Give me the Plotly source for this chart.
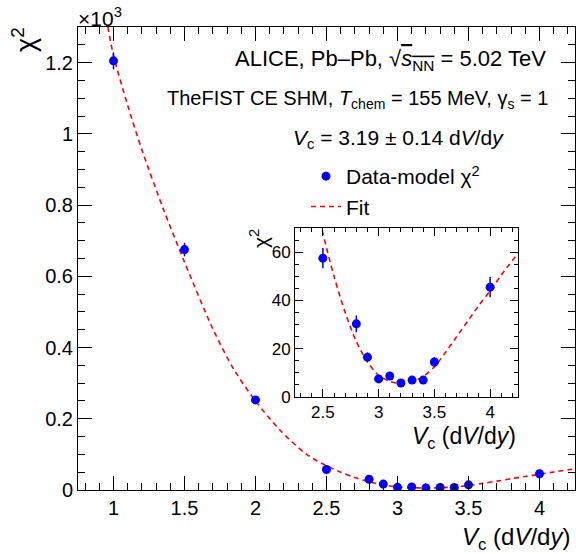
import plotly.graph_objects as go

# ---- data ----
vc = [1.0, 1.5, 2.0, 2.5, 2.8, 2.9, 3.0, 3.1, 3.2, 3.3, 3.4, 3.5, 4.0]
chi2 = [1205, 675, 253, 57.5, 30.3, 16.5, 7.5, 8.7, 5.8, 7.0, 7.0, 14.5, 45.5]
chi2_err = [24, 19, 8, 4.2, 3.5, 2.0, 1.2, 1.2, 1.0, 1.0, 1.0, 2.0, 4.2]

fit_x = [0.96, 1.0, 1.1, 1.2, 1.35, 1.5, 1.7, 1.85, 2.0, 2.17, 2.36, 2.5, 2.6, 2.7,
         2.8, 2.9, 3.0, 3.1, 3.2, 3.3, 3.4, 3.5, 3.6, 3.7, 3.8, 3.9, 4.0, 4.1, 4.25]
fit_y = [1300, 1220, 1080, 955, 790, 640, 452, 337, 250, 169, 100, 68, 50, 35,
         23, 14.5, 9, 6.5, 5.6, 6.3, 8.5, 12.5, 18.5, 25, 31.5, 38, 44, 50.5, 59.5]

main_x_ticks = [1, 1.5, 2, 2.5, 3, 3.5, 4]
main_y_ticks = [0, 0.2, 0.4, 0.6, 0.8, 1.0, 1.2]
main_y_labels = ["0", "0.2", "0.4", "0.6", "0.8", "1", "1.2"]
inset_x_ticks = [2.5, 3, 3.5, 4]
inset_y_ticks = [0, 20, 40, 60]

SCALE = 1000.0
FONT = "Liberation Sans, Arial, sans-serif"
BLUE = "#0000ff"
RED = "#ff0000"

W, H = 576, 554
L, R, T, B = 78, 1, 27, 64
PW, PH = W - L - R, H - T - B


def px(xp):
    return (xp - L) / PW


def py(yp):
    return (H - B - yp) / PH


fig = go.Figure()

# main plot
fig.add_trace(go.Scatter(
    x=fit_x, y=[v / SCALE for v in fit_y], mode="lines", name="Fit",
    line=dict(color=RED, width=1.6, dash="5px,4px", shape="spline", smoothing=0.8),
    xaxis="x", yaxis="y", showlegend=True, legendrank=2))
fig.add_trace(go.Scatter(
    x=vc, y=[v / SCALE for v in chi2], mode="markers", name="Data-model χ<sup>2</sup>",
    marker=dict(color=BLUE, size=9),
    error_y=dict(type="data", array=[e / SCALE for e in chi2_err], color=BLUE,
                 thickness=1.5, width=0),
    xaxis="x", yaxis="y", showlegend=True, legendrank=1))

# inset
fig.add_trace(go.Scatter(
    x=fit_x, y=fit_y, mode="lines",
    line=dict(color=RED, width=1.6, dash="5px,4px", shape="spline", smoothing=0.8),
    xaxis="x2", yaxis="y2", showlegend=False))
fig.add_trace(go.Scatter(
    x=vc, y=chi2, mode="markers",
    marker=dict(color=BLUE, size=9),
    error_y=dict(type="data", array=chi2_err, color=BLUE, thickness=1.5, width=0),
    xaxis="x2", yaxis="y2", showlegend=False))

axis_common = dict(showline=True, linecolor="black", linewidth=1, mirror="allticks",
                   ticks="inside", tickcolor="black", showgrid=False, zeroline=False)
main_font = dict(family=FONT, size=20, color="black")
inset_font = dict(family=FONT, size=17, color="black")

ix0, ix1 = px(295), px(518)
iy0, iy1 = py(397), py(228)

fig.update_layout(
    width=W, height=H,
    margin=dict(l=L, r=R, t=T, b=B),
    paper_bgcolor="white", plot_bgcolor="white",
    font=dict(family=FONT, color="black"),
    xaxis=dict(range=[0.75, 4.25], tickvals=main_x_ticks, ticklen=14, tickfont=main_font,
               minor=dict(ticks="inside", dtick=0.1, ticklen=7, tickcolor="black"),
               **axis_common),
    yaxis=dict(range=[0, 1.3], tickvals=main_y_ticks, ticktext=main_y_labels,
               ticklen=14, tickfont=main_font,
               minor=dict(ticks="inside", dtick=0.05, ticklen=7, tickcolor="black"),
               **axis_common),
    xaxis2=dict(domain=[ix0, ix1], anchor="y2", range=[2.25, 4.25], tickvals=inset_x_ticks,
                ticklen=8, tickfont=inset_font,
                minor=dict(ticks="inside", dtick=0.1, ticklen=4, tickcolor="black"),
                **axis_common),
    yaxis2=dict(domain=[iy0, iy1], anchor="x2", range=[0, 70], tickvals=inset_y_ticks,
                ticklen=8, tickfont=inset_font,
                minor=dict(ticks="inside", dtick=5, ticklen=4, tickcolor="black"),
                **axis_common),
    legend=dict(x=px(306), y=py(156), xanchor="left", yanchor="top",
                bgcolor="rgba(0,0,0,0)", font=dict(family=FONT, size=21, color="black"),
                itemwidth=30, tracegroupgap=0),
    showlegend=True,
)

ann = []


def add_text(text, xp, yp, size, xanchor="center", yanchor="middle", angle=0):
    ann.append(dict(text=text, x=px(xp), y=py(yp), xref="paper", yref="paper",
                    xanchor=xanchor, yanchor=yanchor, showarrow=False, textangle=angle,
                    font=dict(family=FONT, size=size, color="black")))


add_text("×10<sup>3</sup>", 76, 17, 21, xanchor="left")
add_text("χ<sup>2</sup>", 24, 40, 27, angle=-90)
add_text("<i>V</i><sub>c</sub> (d<i>V</i>/d<i>y</i>)", 572, 538, 24, xanchor="right")
add_text("χ<sup>2</sup>", 259, 239, 21, angle=-90)
add_text("<i>V</i><sub>c</sub> (d<i>V</i>/d<i>y</i>)", 518, 437, 23, xanchor="right")
add_text("ALICE, Pb–Pb, √<span style='text-decoration:overline'><i>s</i><sub>NN</sub></span> = 5.02 TeV",
         548, 60, 22, xanchor="right")
add_text("TheFIST CE SHM, <i>T</i><sub>chem</sub> = 155 MeV, γ<sub>s</sub> = 1",
         550, 99, 20, xanchor="right")
add_text("<i>V</i><sub>c</sub> = 3.19 ± 0.14 d<i>V</i>/d<i>y</i>", 398, 139, 21)

fig.update_layout(annotations=ann)

fig.write_html("out.html", post_script="document.body.style.margin='0';",
               config={"displayModeBar": False})
